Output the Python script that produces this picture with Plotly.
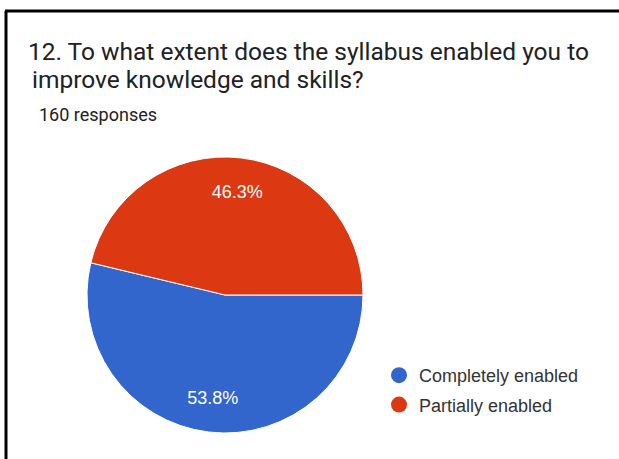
import plotly.graph_objects as go

# Survey question 12: responses by category
categories = ["Completely enabled", "Partially enabled"]
counts = [86, 74]
colors = ["#3366CC", "#DC3912"]
title_lines = ["12. To what extent does the syllabus enabled you to",
               "improve knowledge and skills?"]
responses_note = "160 responses"

W, H = 619, 459
CX, CY, R = 225, 295, 138
pie_domain = dict(x=[(CX - R) / W, (CX + R) / W],
                  y=[(H - CY - R) / H, (H - CY + R) / H])

fig = go.Figure()

# filled pie
fig.add_trace(go.Pie(
    labels=categories,
    values=counts,
    sort=False,
    direction="clockwise",
    rotation=90,
    marker=dict(colors=colors, line=dict(color="white", width=1)),
    textinfo="none",
    hoverinfo="label+percent",
    showlegend=False,
    domain=pie_domain,
))

# transparent ring on top that carries the percentage labels at 3/4 radius
fig.add_trace(go.Pie(
    labels=categories,
    values=counts,
    sort=False,
    direction="clockwise",
    rotation=90,
    hole=0.5,
    marker=dict(colors=["rgba(0,0,0,0)"] * len(categories),
                line=dict(width=0)),
    texttemplate="%{percent:.1%}",
    textposition="inside",
    insidetextorientation="horizontal",
    textfont=dict(family="Liberation Sans, Arial", size=18, color="white"),
    hoverinfo="skip",
    showlegend=False,
    domain=pie_domain,
))

# round legend markers
for name, col in zip(categories, colors):
    fig.add_trace(go.Scatter(
        x=[None], y=[None], mode="markers", name=name, legendgroup=name,
        marker=dict(symbol="circle", size=17, color=col),
    ))

fig.update_layout(
    width=W, height=H,
    margin=dict(l=0, r=0, t=0, b=0),
    paper_bgcolor="white",
    plot_bgcolor="white",
    xaxis=dict(visible=False),
    yaxis=dict(visible=False),
    legend=dict(
        x=379 / W, y=(H - 357) / H, xanchor="left", yanchor="top",
        font=dict(family="Liberation Sans, Arial", size=18, color="#333333"),
        bgcolor="rgba(0,0,0,0)",
        tracegroupgap=3,
        itemclick=False,
    ),
    annotations=[
        dict(text=title_lines[0], xref="paper", yref="paper",
             x=26 / W, y=1 - 34.5 / H, xanchor="left", yanchor="top",
             showarrow=False,
             font=dict(family="Roboto", size=24.5, color="#202124")),
        dict(text=title_lines[1], xref="paper", yref="paper",
             x=30 / W, y=1 - 62.5 / H, xanchor="left", yanchor="top",
             showarrow=False,
             font=dict(family="Roboto", size=24.5, color="#202124")),
        dict(text=responses_note, xref="paper", yref="paper",
             x=37 / W, y=1 - 102 / H, xanchor="left", yanchor="top",
             showarrow=False,
             font=dict(family="Roboto", size=18, color="#202124")),
    ],
    shapes=[
        dict(type="line", xref="paper", yref="paper",
             x0=5 / W, x1=1, y0=1 - 11 / H, y1=1 - 11 / H,
             line=dict(color="black", width=3)),
        dict(type="line", xref="paper", yref="paper",
             x0=6 / W, x1=6 / W, y0=0, y1=1 - 11 / H,
             line=dict(color="black", width=3)),
    ],
)

fig.write_html("out.html")
